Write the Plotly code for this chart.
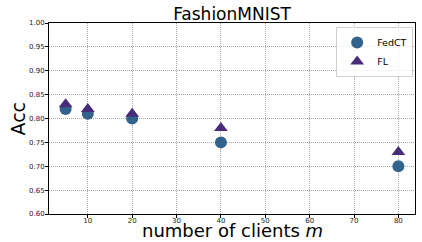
import plotly.graph_objects as go

clients = [5, 10, 20, 40, 80]
fedct = [0.82, 0.81, 0.80, 0.75, 0.70]
fl = [0.83, 0.82, 0.81, 0.78, 0.73]
xticks = [10, 20, 30, 40, 50, 60, 70, 80]
yticks = [0.60, 0.65, 0.70, 0.75, 0.80, 0.85, 0.90, 0.95, 1.00]

fig = go.Figure()
fig.add_trace(go.Scatter(x=clients, y=fedct, mode="markers", name="FedCT",
                         marker=dict(symbol="circle", size=12, color="#33638d")))
fig.add_trace(go.Scatter(x=clients, y=fl, mode="markers", name="FL",
                         marker=dict(symbol="triangle-up", size=12, color="#472c7a")))

axis_common = dict(showline=True, linecolor="black", linewidth=1, mirror=True,
                   ticks="outside", ticklen=3, tickwidth=0.8, tickcolor="black",
                   showgrid=True, gridcolor="#a8a8a8", griddash="1px,1px", gridwidth=0.8,
                   zeroline=False, automargin=False, tickfont=dict(size=7, color="#222"))

fig.update_layout(
    width=422, height=242,
    margin=dict(l=49, r=7, t=23, b=28),
    paper_bgcolor="white", plot_bgcolor="white",
    font=dict(family="DejaVu Sans", color="black"),
    title=dict(text="FashionMNIST", xref="paper", x=0.5, xanchor="center",
               y=1 - 14 / 242, yanchor="middle",
               font=dict(size=17, color="black")),
    xaxis=dict(range=[1.25, 83.75], tickvals=xticks, ticklabelstandoff=-3, **axis_common),
    yaxis=dict(range=[0.60, 1.00], tickvals=yticks, tickformat=".2f",
               ticklabelstandoff=-1, **axis_common),
    legend=dict(x=0.995, y=0.979, xanchor="right", yanchor="top",
                bgcolor="rgba(255,255,255,0.8)", bordercolor="#d0d0d0", borderwidth=1,
                font=dict(size=9.5), itemsizing="constant"),
    showlegend=True,
    annotations=[
        dict(text="number of clients <i>m</i>", xref="paper", yref="paper",
             x=0.5, y=-28 / 191, xanchor="center", yanchor="bottom", showarrow=False,
             borderpad=0, font=dict(size=18)),
        dict(text="Acc", xref="paper", yref="paper", x=-(49 - 17) / 366, y=0.5,
             xanchor="center", yanchor="middle", textangle=-90, showarrow=False,
             font=dict(size=19)),
    ],
)

fig.write_html("out.html", config={"displayModeBar": False},
               post_script="document.body.style.margin='0';")
